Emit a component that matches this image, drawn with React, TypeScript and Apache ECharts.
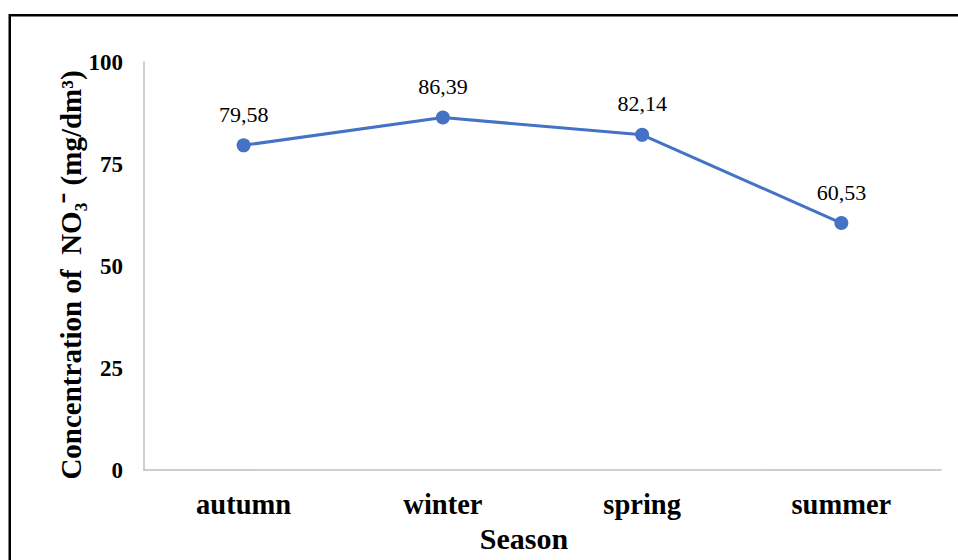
import React, { useEffect, useRef } from "react";
import * as echarts from "echarts";

// Seasonal nitrate concentration
const seasons: string[] = ["autumn", "winter", "spring", "summer"];
const nitrate: number[] = [79.58, 86.39, 82.14, 60.53];
const yTicks = { min: 0, max: 100, step: 25 };

const SERIF = "'Liberation Serif', 'Times New Roman', serif";

export default function App() {
  const ref = useRef<HTMLDivElement>(null);

  useEffect(() => {
    if (!ref.current) return;
    const chart = echarts.init(ref.current, undefined, { renderer: "svg" });
    chart.setOption({
      animation: false,
      backgroundColor: "#ffffff",
      grid: { left: 144, right: 17, top: 62, bottom: 90, containLabel: false },
      xAxis: {
        type: "category",
        data: seasons,
        boundaryGap: true,
        axisLine: { show: true, lineStyle: { color: "#BFBFBF", width: 1.5 } },
        axisTick: { show: false },
        axisLabel: {
          color: "#000",
          fontFamily: SERIF,
          fontWeight: "bold",
          fontSize: 28.5,
          margin: 20,
        },
        splitLine: { show: false },
      },
      yAxis: {
        type: "value",
        min: yTicks.min,
        max: yTicks.max,
        interval: yTicks.step,
        axisLine: { show: true, lineStyle: { color: "#BFBFBF", width: 1.5 } },
        axisTick: { show: false },
        axisLabel: {
          color: "#000",
          fontFamily: SERIF,
          fontWeight: "bold",
          fontSize: 23,
          margin: 21,
        },
        splitLine: { show: false },
      },
      series: [
        {
          type: "line",
          data: nitrate,
          symbol: "circle",
          symbolSize: 14,
          lineStyle: { color: "#4472C4", width: 3 },
          itemStyle: { color: "#4472C4" },
          label: {
            show: true,
            position: "top",
            distance: 13,
            color: "#000",
            fontFamily: SERIF,
            fontSize: 22,
            formatter: (p: any) => p.value.toFixed(2).replace(".", ","),
          },
        },
      ],
      graphic: [
        {
          type: "rect",
          silent: true,
          shape: { x: 9.75, y: 15.25, width: 1000, height: 600 },
          style: { fill: "none", stroke: "#000", lineWidth: 2.5 },
        },
        {
          type: "text",
          x: 71,
          y: 275,
          rotation: Math.PI / 2,
          silent: true,
          style: {
            text: "Concentration of  NO₃⁻ (mg/dm³)",
            fontFamily: SERIF,
            fontWeight: "bold",
            fontSize: 29,
            fill: "#000",
            align: "center",
            verticalAlign: "middle",
          },
        },
        {
          type: "text",
          x: 524,
          y: 538,
          silent: true,
          style: {
            text: "Season",
            fontFamily: SERIF,
            fontWeight: "bold",
            fontSize: 30,
            fill: "#000",
            align: "center",
            verticalAlign: "middle",
          },
        },
      ],
    });
    return () => chart.dispose();
  }, []);

  return (
    <div
      ref={ref}
      style={{ position: "absolute", left: 0, top: 0, width: 958, height: 560 }}
    />
  );
}
